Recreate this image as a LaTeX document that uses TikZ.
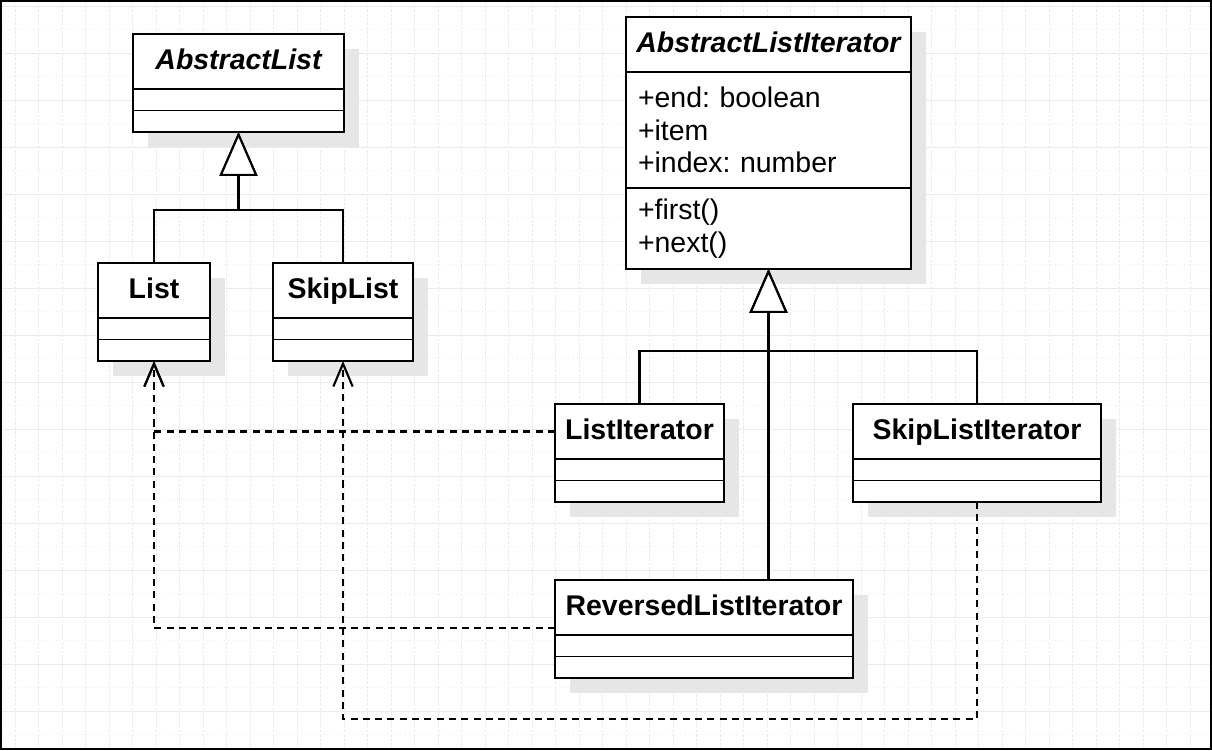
\documentclass[tikz,border=0pt]{standalone}
\usepackage{fontspec}
\setmainfont{Liberation Sans}
\frenchspacing
\usetikzlibrary{arrows.meta,positioning,shadows}
\definecolor{gridgray}{HTML}{EBEBEB}
\definecolor{shade}{HTML}{E6E6E6}
\tikzset{
  box/.style={draw, fill=white, line width=1.1pt, outer sep=0pt, inner sep=0pt,
              font=\fontsize{16.2}{18.5}\selectfont,
              drop shadow={shadow xshift=0.3cm, shadow yshift=-0.3cm, fill=shade, opacity=1}},
  hdr/.style={box, minimum height=1.1cm, text height=1.1em, text depth=0.2em,
              font=\fontsize{16.2}{18.5}\selectfont\bfseries},
  comp/.style={box, minimum height=0.43cm},
  inh/.style={line width=1.2pt, -{Triangle[length=25pt, width=21.5pt, fill=white]}},
  dep/.style={line width=1.2pt, dash pattern=on 4pt off 3pt,
              -{Straight Barb[length=13pt, width=11pt]}},
  gridln/.style={draw=gridgray, line width=0.45pt}
}
\begin{document}
\begin{tikzpicture}[x=1cm,y=1cm]
  \useasboundingbox (0,0) rectangle (24.24,15);
  % grid
  \foreach \i in {0,...,50} { \draw[gridln, dash pattern=on 1.6pt off 0.9pt] ({0.3+0.47*\i},0) -- ++(0,15); }
  \foreach \j in {0,2,...,30} { \draw[gridln] (0,{14.88-0.47*\j}) -- ++(24.24,0); }
  \foreach \j in {1,3,...,31} { \draw[gridln, dotted] (0,{14.88-0.47*\j}) -- ++(24.24,0); }
  \draw[line width=1.1pt] (0.02,0.02) rectangle (24.22,14.98);

  % abstract classes
  \node[hdr, minimum width=4.22cm, anchor=north] (al) at (4.77,14.32) {\itshape AbstractList};
  \node[comp, minimum width=4.22cm, below=0pt of al] (al-a) {};
  \node[comp, minimum width=4.22cm, below=0pt of al-a] (al-o) {};

  \node[hdr, minimum width=5.7cm, anchor=north] (ali) at (15.37,14.66) {\itshape AbstractListIterator};
  \node[comp, minimum width=5.7cm, minimum height=2.32cm, text width=5.22cm, align=left,
        below=0pt of ali] (ali-a) {+end: boolean\\+item\\+index: number};
  \node[comp, minimum width=5.7cm, minimum height=1.62cm, text width=5.22cm, align=left,
        below=0pt of ali-a] (ali-o) {+first()\\+next()};

  % concrete classes
  \foreach \n/\t/\x/\y/\w in {l/List/3.08/9.74/2.24, sl/SkipList/6.86/9.74/2.80,
      li/ListIterator/12.79/6.92/3.38, sli/SkipListIterator/19.54/6.92/4.96,
      rli/ReversedListIterator/14.08/3.40/5.96} {
    \node[hdr, minimum width=\w cm, anchor=north] (\n) at (\x,\y) {\t};
    \node[comp, minimum width=\w cm, below=0pt of \n] (\n-a) {};
    \node[comp, minimum width=\w cm, below=0pt of \n-a] (\n-o) {};
  }

  % inheritance
  \coordinate (j1) at (4.77,10.8);
  \coordinate (j2) at (15.37,7.98);
  \draw[inh] (l.north) |- (j1) -- (al-o.south);
  \draw[inh] (sl.north) |- (j1) -- (al-o.south);
  \draw[inh] (li.north) |- (j2) -- (ali-o.south);
  \draw[inh] (sli.north) |- (j2) -- (ali-o.south);
  \draw[inh] (rli.north -| j2) -- (ali-o.south);

  % dependencies
  \coordinate (low) at (6.86,0.62);
  \draw[dep] (li.west) -| (l-o.south);
  \draw[dep] ([yshift=0.14cm]rli.south west) -| (l-o.south);
  \draw[dep] (sli-o.south) |- (low) -- (sl-o.south);
\end{tikzpicture}
\end{document}
